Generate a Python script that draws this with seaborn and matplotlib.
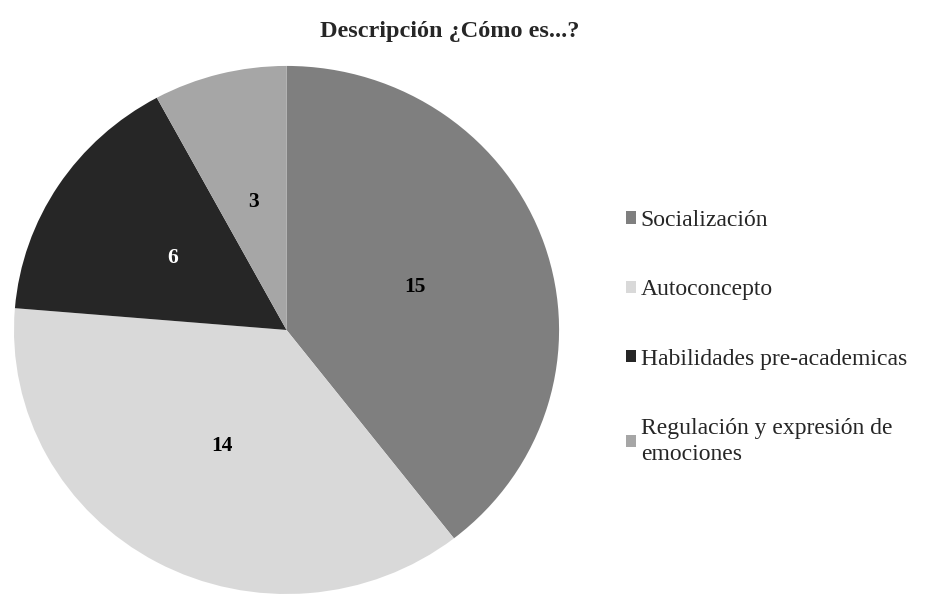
import matplotlib
matplotlib.use("Agg")
import matplotlib.pyplot as plt
from matplotlib.patches import Patch
import seaborn as sns

categories = ["Socialización", "Autoconcepto", "Habilidades pre-academicas",
              "Regulación y expresión de\nemociones"]
counts = [15, 14, 6, 3]
colors = ["#7f7f7f", "#d9d9d9", "#262626", "#a6a6a6"]
label_colors = ["#000000", "#000000", "#ffffff", "#000000"]
title = "Descripción ¿Cómo es...?"

sns.set_style("white")
plt.rcParams["font.family"] = ["Liberation Serif", "DejaVu Serif"]

fig = plt.figure(figsize=(9.27, 5.94), dpi=100)
ax = fig.add_axes([0.0151, 0.0, 0.588, 0.889])

total = sum(counts)
wedges, _, autotexts = ax.pie(
    counts,
    colors=colors,
    startangle=90,
    counterclock=False,
    autopct=lambda p: f"{round(p * total / 100)}",
    pctdistance=0.5,
    wedgeprops=dict(linewidth=0),
    textprops=dict(fontsize=15.5, fontweight="bold"),
)
for t, c in zip(autotexts, label_colors):
    t.set_color(c)

ax.set_xlim(-1, 1)
ax.set_ylim(-1, 1)
ax.set_aspect("auto")
ax.axis("off")

fig.text(450 / 927, 1 - 37 / 594, title, ha="center", va="baseline",
         fontsize=17.5, fontweight="bold")

handles = [Patch(facecolor=c, edgecolor="none") for c in colors]
leg = fig.legend(handles, categories, loc="upper left",
                 bbox_to_anchor=(626 / 927, 1 - 210 / 594),
                 frameon=False, fontsize=17, handlelength=0.42, handleheight=0.42,
                 handletextpad=0.2, labelspacing=2.05, borderaxespad=0, borderpad=0)
for t in leg.get_texts():
    t.set_linespacing(1.3)

fig.savefig("out.png", dpi=100)
